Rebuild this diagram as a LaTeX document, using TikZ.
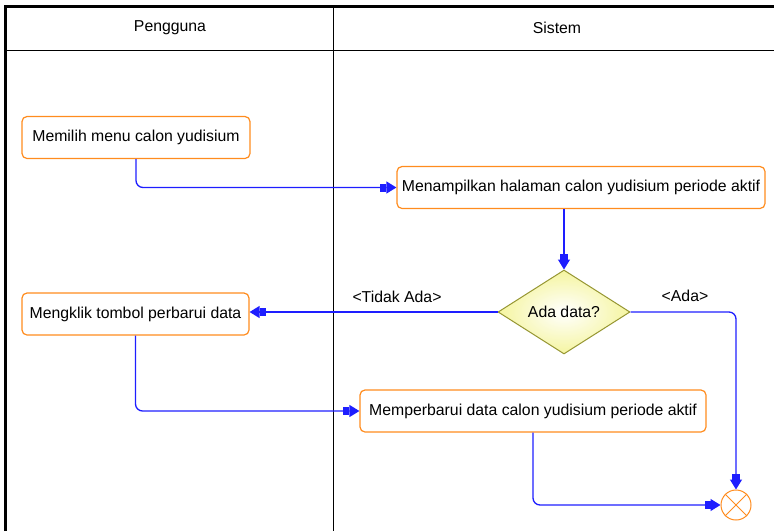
\documentclass[tikz,border=0pt]{standalone}
\usepackage{fontspec}
\setmainfont{Liberation Sans}
\usetikzlibrary{arrows.meta,shapes.geometric}

\definecolor{actorange}{RGB}{255,140,30}
\definecolor{flowblue}{RGB}{30,30,255}
\definecolor{decborder}{RGB}{150,150,50}
\definecolor{decfill}{RGB}{245,245,160}

\begin{document}
\begin{tikzpicture}[x=1pt,y=-1pt]

\tikzstyle{act}=[draw=actorange,line width=1.2pt,rounded corners=5pt,fill=white,minimum height=42pt,inner sep=0pt,font=\fontsize{15.8}{18}\selectfont]
\tikzstyle{dec}=[diamond,draw=decborder,line width=1pt,inner color=white,outer color=decfill,minimum width=132pt,minimum height=84pt,inner sep=0pt,font=\fontsize{15.8}{18}\selectfont]
\tikzstyle{flow}=[draw=flowblue,line width=1.3pt,rounded corners=7pt,-{Square[length=6pt,width=8pt,sep=0pt]Triangle[length=10pt,width=12pt]}]
\tikzstyle{lbl}=[font=\fontsize{15.8}{18}\selectfont]

\useasboundingbox (0,0) rectangle (774,531);

\draw[line width=3pt] (5,531) -- (5,6) -- (774,6);
\draw[line width=1pt] (5,50) -- (774,50);
\draw[line width=1pt] (333,7) -- (333,531);

\node[lbl] (hpengguna) at (170,28) {Pengguna};
\node[lbl] (hsistem) at (557,28) {Sistem};

\node[act,minimum width=228pt] (memilih) at (136,137.5) {Memilih menu calon yudisium};
\node[act,minimum width=368pt] (tampil) at (581,187.5) {Menampilkan halaman calon yudisium periode aktif};
\node[dec] (cek) at (564,312) {Ada data?};
\node[act,minimum width=227pt] (klik) at (135.5,314) {Mengklik tombol perbarui data};
\node[act,minimum width=346pt] (perbarui) at (533,411) {Memperbarui data calon yudisium periode aktif};
\node[circle,draw=actorange,line width=1pt,minimum size=30pt,inner sep=0pt] (selesai) at (736,505) {};
\draw[actorange,line width=1pt] (selesai.north east) -- (selesai.south west);
\draw[actorange,line width=1pt] (selesai.north west) -- (selesai.south east);

\draw[flow] (memilih.south) |- (tampil.west);
\draw[flow] (cek.north |- tampil.south) -- (cek.north);
\draw[flow] (cek.west) -- (cek.west -| klik.east);
\draw[flow] (cek.east) -| (selesai.north);
\draw[flow] (klik.south) |- (perbarui.west);
\draw[flow] (perbarui.south) |- (selesai.west);

\node[lbl] (ltidak) at (397,297) {<Tidak Ada>};
\node[lbl] (lada) at (685,296) {<Ada>};

\end{tikzpicture}
\end{document}
